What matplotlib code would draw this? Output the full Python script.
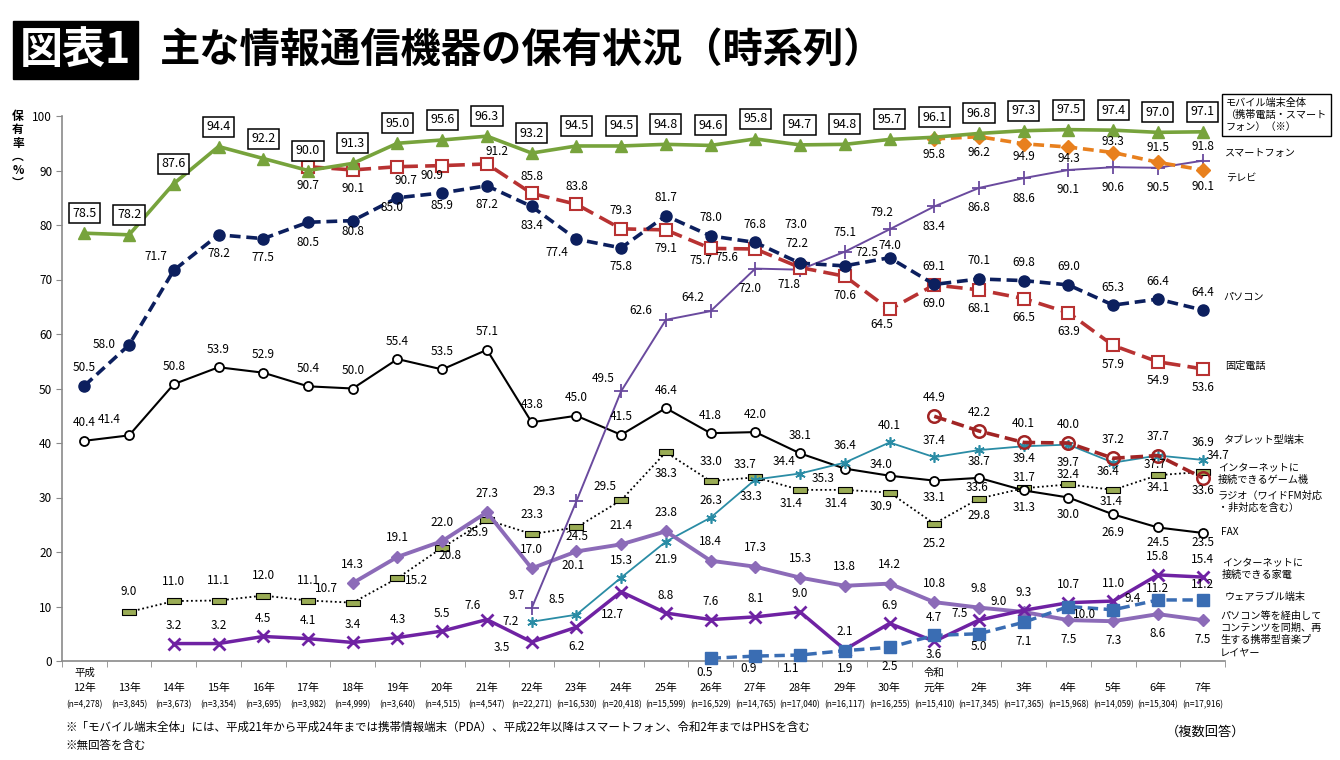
import numpy as np
import matplotlib
matplotlib.use('Agg')
import matplotlib.pyplot as plt
from matplotlib.path import Path

plt.rcParams['font.family'] = ['Noto Sans CJK JP', 'DejaVu Sans']

N = np.nan
eras = ['平成'] + [''] * 18 + ['令和'] + [''] * 6
years = ['12年', '13年', '14年', '15年', '16年', '17年', '18年', '19年', '20年', '21年',
         '22年', '23年', '24年', '25年', '26年', '27年', '28年', '29年', '30年',
         '元年', '2年', '3年', '4年', '5年', '6年', '7年']
samples = ['4,278', '3,845', '3,673', '3,354', '3,695', '3,982', '4,999', '3,640', '4,515',
           '4,547', '22,271', '16,530', '20,418', '15,599', '16,529', '14,765', '17,040',
           '16,117', '16,255', '15,410', '17,345', '17,365', '15,968', '14,059', '15,304',
           '17,916']

mobile = [78.5, 78.2, 87.6, 94.4, 92.2, 90.0, 91.3, 95.0, 95.6, 96.3, 93.2, 94.5, 94.5,
          94.8, 94.6, 95.8, 94.7, 94.8, 95.7, 96.1, 96.8, 97.3, 97.5, 97.4, 97.0, 97.1]
pc = [50.5, 58.0, 71.7, 78.2, 77.5, 80.5, 80.8, 85.0, 85.9, 87.2, 83.4, 77.4, 75.8, 81.7,
      78.0, 76.8, 73.0, 72.5, 74.0, 69.1, 70.1, 69.8, 69.0, 65.3, 66.4, 64.4]
fixed = [N] * 5 + [90.7, 90.1, 90.7, 90.9, 91.2, 85.8, 83.8, 79.3, 79.1, 75.7, 75.6, 72.2,
                   70.6, 64.5, 69.0, 68.1, 66.5, 63.9, 57.9, 54.9, 53.6]
tv = [N] * 19 + [95.8, 96.2, 94.9, 94.3, 93.3, 91.5, 90.1]
smart = [N] * 10 + [9.7, 29.3, 49.5, 62.6, 64.2, 72.0, 71.8, 75.1, 79.2, 83.4, 86.8, 88.6,
                    90.1, 90.6, 90.5, 91.8]
fax = [40.4, 41.4, 50.8, 53.9, 52.9, 50.4, 50.0, 55.4, 53.5, 57.1, 43.8, 45.0, 41.5, 46.4,
       41.8, 42.0, 38.1, 35.3, 34.0, 33.1, 33.6, 31.3, 30.0, 26.9, 24.5, 23.5]
tablet = [N] * 10 + [7.2, 8.5, 15.3, 21.9, 26.3, 33.3, 34.4, 36.4, 40.1, 37.4, 38.7, 39.4,
                     39.7, 36.4, 37.7, 36.9]
game = [N] * 19 + [44.9, 42.2, 40.1, 40.0, 37.2, 37.7, 33.6]
radio = [N] + [9.0, 11.0, 11.1, 12.0, 11.1, 10.7, 15.2, 20.8, 25.9, 23.3, 24.5, 29.5, 38.3,
               33.0, 33.7, 31.4, 31.4, 30.9, 25.2, 29.8, 31.7, 32.4, 31.4, 34.1, 34.7]
appliance = [N] * 2 + [3.2, 3.2, 4.5, 4.1, 3.4, 4.3, 5.5, 7.6, 3.5, 6.2, 12.7, 8.8, 7.6, 8.1,
                       9.0, 2.1, 6.9, 3.6, 7.5, 9.3, 10.7, 11.0, 15.8, 15.4]
music = [N] * 6 + [14.3, 19.1, 22.0, 27.3, 17.0, 20.1, 21.4, 23.8, 18.4, 17.3, 15.3, 13.8,
                   14.2, 10.8, 9.8, 9.0, 7.5, 7.3, 8.6, 7.5]
wearable = [N] * 14 + [0.5, 0.9, 1.1, 1.9, 2.5, 4.7, 5.0, 7.1, 10.0, 9.4, 11.2, 11.2]

x = np.arange(len(years))

W, H = 1340, 760
fig = plt.figure(figsize=(W / 100, H / 100), dpi=100)
ax = fig.add_axes([62 / W, 1 - 661 / H, (1225 - 62) / W, (661 - 116) / H])
ax.set_xlim(-0.5, 25.5)
ax.set_ylim(0, 100)

rect = Path([(-1, -0.38), (1, -0.38), (1, 0.38), (-1, 0.38), (-1, -0.38)],
            [Path.MOVETO, Path.LINETO, Path.LINETO, Path.LINETO, Path.CLOSEPOLY])

# (values, line kwargs, default label offset (px, down positive), overrides)
series = [
    (radio, dict(color='black', lw=1.3, ls=(0, (1, 1.5)), marker=rect, ms=9.5,
                 mfc='#9aac55', mec='black', mew=0.8),
     (0, -20), {6: (-26, -14), 7: (19, 2), 8: (8, 8), 9: (-10, 13), 11: (1, 9),
                12: (-16, -14), 13: (0, 21), 15: (-10, -13), 16: (-9, 14), 17: (-9, 14),
                18: (-8, 14), 19: (0, 20), 20: (0, 17), 21: (0, -11), 22: (0, -10),
                23: (-2, 12), 24: (0, 12), 25: (15, -16)}),
    (fax, dict(color='black', lw=1.5, marker='o', ms=6.5, mfc='white', mec='black', mew=1.3),
     (0, -18), {1: (-20, -16), 17: (-22, 10), 18: (-8, -11), 19: (0, 17), 20: (-2, 10),
                21: (0, 17), 22: (0, 17), 23: (0, 18), 24: (0, 15), 25: (0, 10)}),
    (tablet, dict(color='#2a8ca5', lw=1.3, marker=(6, 2, 0), ms=7.5, mec='#2a8ca5', mew=1.2),
     (0, -17), {10: (-21, 0), 11: (-20, -15), 13: (0, 18), 15: (-4, 17), 16: (-16, -12),
                20: (0, 11), 21: (0, 12), 22: (0, 18), 23: (-5, 9), 24: (-3, 9)}),
    (music, dict(color='#8c6bb8', lw=2.8, marker='D', ms=6.5, mfc='#8c6bb8', mec='#8c6bb8'),
     (0, -19), {11: (-3, 14), 21: (-25, -10), 22: (0, 19), 23: (0, 19), 24: (0, 19),
                25: (0, 19)}),
    (appliance, dict(color='#6f22a3', lw=2.5, marker='x', ms=8.5, mec='#6f22a3', mew=2),
     (0, -18), {9: (-14, -14), 10: (-30, 6), 11: (0, 19), 12: (-9, 23), 19: (0, 13),
                20: (-19, -7)}),
    (wearable, dict(color='#3a6db3', lw=2.5, ls=(0, (3, 1.6)), marker='s', ms=8,
                    mfc='#3a6db3', mec='#3a6db3'),
     (0, 14), {14: (-6, 14), 15: (-7, 12), 16: (-9, 13), 17: (0, 18), 18: (0, 19),
               19: (0, -18), 20: (0, 13), 21: (0, 19), 22: (16, 8), 23: (19, -11),
               24: (0, -11), 25: (0, -15)}),
    (game, dict(color='#a12424', lw=2.6, ls=(0, (3.5, 1.6)), marker='o', ms=9, mfc='none',
                mec='#a12424', mew=1.8),
     (0, -19), {25: (0, 13)}),
    (smart, dict(color='#6a4a9e', lw=1.4, marker='+', ms=10, mec='#6a4a9e', mew=1.3),
     (0, 20), {10: (-15, -13), 11: (-32, -10), 12: (-18, -13), 13: (-25, -9),
               14: (-18, -14), 15: (-5, 20), 16: (-11, 15), 17: (0, -19), 18: (-8, -17),
               25: (0, -14)}),
    (fixed, dict(color='#b83232', lw=2.6, ls=(0, (4.5, 2)), marker='s', ms=8.5, mfc='white',
                 mec='#b83232', mew=1.5),
     (0, 19), {7: (8, 14), 8: (-10, 10), 9: (10, -12), 10: (0, -17), 11: (0, -18),
               12: (0, -18), 14: (-10, 12), 15: (-28, 9), 16: (-3, -24), 18: (-8, 15)}),
    (pc, dict(color='#0c1f5e', lw=2.6, ls=(0, (3, 1.6)), marker='o', ms=8, mfc='#0c1f5e',
              mec='#0c1f5e'),
     (0, -18), {1: (-25, 0), 2: (-18, -14), 3: (0, 19), 4: (0, 19), 5: (0, 20), 6: (0, 11),
                7: (-5, 10), 8: (0, 13), 9: (0, 19), 10: (0, 19), 11: (-20, 13), 12: (0, 19),
                16: (-4, -39), 17: (22, -13), 18: (0, -12)}),
    (tv, dict(color='#e8801e', lw=2.6, ls=(0, (3, 1.6)), marker='D', ms=7, mfc='#e8801e',
              mec='#e8801e'),
     (0, 16), {21: (0, 13), 22: (0, 11), 23: (0, -11), 24: (0, -15), 25: (0, 17)}),
    (mobile, dict(color='#77a33c', lw=2.6, marker='^', ms=8, mfc='#77a33c', mec='#77a33c'),
     (0, -20), {}),
]

for vals, kw, dflt, ov in series:
    v = np.array(vals, dtype=float)
    ax.plot(x, v, **kw, clip_on=False, zorder=3)
    boxed = vals is mobile
    for i, val in enumerate(v):
        if np.isnan(val):
            continue
        dx, dy = ov.get(i, dflt)
        bbox = dict(boxstyle='square,pad=0.28', fc='white', ec='black', lw=1.1) if boxed else None
        ax.annotate(f'{val:.1f}', xy=(i, val), xytext=(dx, -dy), textcoords='offset pixels',
                    ha='center', va='center', fontsize=9 if boxed else 8.5, color='black',
                    bbox=bbox, zorder=6, annotation_clip=False)

# axes styling
for s in ['top', 'right']:
    ax.spines[s].set_visible(False)
for s in ['left', 'bottom']:
    ax.spines[s].set_color('#8a8a8a')
    ax.spines[s].set_linewidth(1.2)
ax.set_yticks(range(0, 101, 10))
ax.tick_params(axis='y', direction='out', length=4, color='#8a8a8a', labelsize=8.5, pad=3)
ax.set_xticks([])
ax.set_xticks(np.arange(-0.5, 25.6, 1), minor=True)
ax.tick_params(axis='x', which='minor', direction='out', length=4, color='#8a8a8a')
ax.tick_params(axis='x', which='major', length=0)

for i in x:
    if eras[i]:
        ax.annotate(eras[i], xy=(i, 0), xycoords=('data', 'axes fraction'), xytext=(0, -12),
                    textcoords='offset pixels', ha='center', va='center', fontsize=7.5,
                    annotation_clip=False)
    ax.annotate(years[i], xy=(i, 0), xycoords=('data', 'axes fraction'), xytext=(0, -27),
                textcoords='offset pixels', ha='center', va='center', fontsize=7.8,
                annotation_clip=False)
    ax.annotate(f'(n={samples[i]})', xy=(i, 0), xycoords=('data', 'axes fraction'),
                xytext=(0, -44), textcoords='offset pixels', ha='center', va='center',
                fontsize=6.0, annotation_clip=False)


def px(xp, yp):
    return xp / W, 1 - yp / H


# y label (vertical)
fig.text(*px(18, 150), '保\n有\n率\n︵\n%\n︶', ha='center', va='center', fontsize=8.5,
         fontweight='bold', linespacing=1.05)

# right side labels
fig.text(*px(1226, 115), 'モバイル端末全体\n（携帯電話・スマート\nフォン）（※）', ha='left',
         va='center', fontsize=7.3, linespacing=1.3,
         bbox=dict(boxstyle='square,pad=0.35', fc='white', ec='black', lw=1.0))
right_labels = [
    (1225, 153, 'スマートフォン'),
    (1226, 179, 'テレビ'),
    (1223, 297, 'パソコン'),
    (1225, 366, '固定電話'),
    (1223, 440, 'タブレット型端末'),
    (1218, 474, 'インターネットに\n接続できるゲーム機'),
    (1218, 502, 'ラジオ（ワイドFM対応\n・非対応を含む）'),
    (1221, 532, 'FAX'),
    (1222, 569, 'インターネットに\n接続できる家電'),
    (1225, 597, 'ウェアラブル端末'),
    (1220, 634, 'パソコン等を経由して\nコンテンツを同期、再\n生する携帯型音楽プ\nレイヤー'),
]
for xp, yp, t in right_labels:
    fig.text(*px(xp, yp), t, ha='left', va='center', fontsize=7.3, linespacing=1.25)

# title
fig.text(*px(20, 50), '図表1', ha='left', va='center', fontsize=31, color='white',
         fontweight='bold',
         bbox=dict(boxstyle='square,pad=0.16', fc='black', ec='black'))
fig.text(*px(160, 50), '主な情報通信機器の保有状況（時系列）', ha='left', va='center',
         fontsize=29, fontweight='bold')

# footnotes
fig.text(*px(65, 727), '※「モバイル端末全体」には、平成21年から平成24年までは携帯情報端末（PDA）、'
         '平成22年以降はスマートフォン、令和2年まではPHSを含む', ha='left', va='center',
         fontsize=8.3)
fig.text(*px(65, 745), '※無回答を含む', ha='left', va='center', fontsize=8.3)
fig.text(*px(1245, 732), '（複数回答）', ha='right', va='center', fontsize=9.5)

fig.savefig('out.png', dpi=100, facecolor='white')
